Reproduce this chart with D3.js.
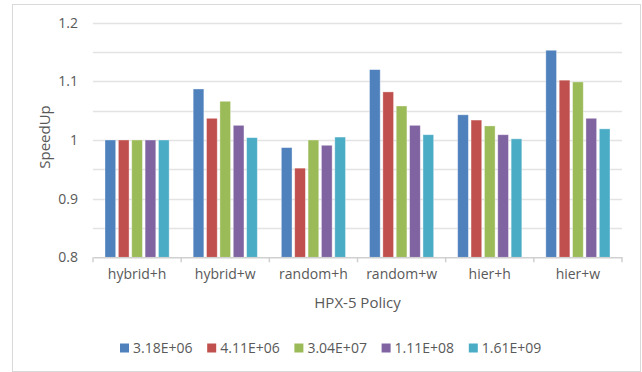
<!DOCTYPE html>
<html>
<head>
<meta charset="utf-8">
<script src="https://cdn.jsdelivr.net/npm/d3@7"></script>
<style>
  html, body { margin: 0; padding: 0; background: #fff; }
  svg text { font-family: "Open Sans", "Noto Sans", sans-serif; fill: #595959; }
</style>
</head>
<body>
<svg id="chart" width="642" height="372"></svg>
<script>
// Policies on the x axis
const categories = ["hybrid+h", "hybrid+w", "random+h", "random+w", "hier+h", "hier+w"];
// Problem sizes (one series each)
const seriesNames = ["3.18E+06", "4.11E+06", "3.04E+07", "1.11E+08", "1.61E+09"];
const seriesColors = ["#4F81BD", "#C0504D", "#9BBB59", "#8064A2", "#4BACC6"];
// Speedup per series, in category order
const s318e06 = [1.000, 1.087, 0.987, 1.120, 1.043, 1.153];
const s411e06 = [1.000, 1.037, 0.952, 1.082, 1.034, 1.102];
const s304e07 = [1.000, 1.066, 1.000, 1.058, 1.024, 1.099];
const s111e08 = [1.000, 1.025, 0.991, 1.025, 1.009, 1.037];
const s161e09 = [1.000, 1.004, 1.005, 1.009, 1.002, 1.019];
const seriesValues = [s318e06, s411e06, s304e07, s111e08, s161e09];
// Axis ticks
const yTicks = [0.8, 0.9, 1.0, 1.1, 1.2];
const yGrid = [0.8, 0.85, 0.9, 0.95, 1.0, 1.05, 1.1, 1.15, 1.2];

const svg = d3.select("#chart");

// outer frame
svg.append("rect")
  .attr("x", 12.5).attr("y", 4.5).attr("width", 628).attr("height", 367)
  .attr("fill", "#fff").attr("stroke", "#d9d9d9").attr("stroke-width", 1);

const plot = { left: 93, right: 622, top: 22.7, bottom: 257.3 };

const y = d3.scaleLinear().domain([0.8, 1.2]).range([plot.bottom, plot.top]);
const x0 = d3.scaleBand().domain(categories).range([plot.left, plot.right]).paddingInner(0).paddingOuter(0);
const x1 = d3.scaleBand().domain(d3.range(seriesNames.length))
  .range([12, x0.bandwidth() - 12]).paddingInner(0.2).paddingOuter(0);

// gridlines
svg.append("g").selectAll("line").data(yGrid.filter(v => v > 0.8)).join("line")
  .attr("x1", plot.left).attr("x2", plot.right)
  .attr("y1", d => Math.round(y(d)) + 0.5).attr("y2", d => Math.round(y(d)) + 0.5)
  .attr("stroke", "#e3e3e3").attr("stroke-width", 1.5);

// y tick labels
svg.append("g").selectAll("text").data(yTicks).join("text")
  .attr("x", 78).attr("y", d => y(d)).attr("dy", "0.35em")
  .attr("text-anchor", "end").attr("font-size", 14)
  .text(d => d3.format("")(d));

// bars
const groups = svg.append("g").selectAll("g").data(categories).join("g")
  .attr("transform", c => `translate(${x0(c)},0)`);
groups.selectAll("rect")
  .data((c, ci) => seriesValues.map((vals, si) => ({ si, v: vals[ci] })))
  .join("rect")
  .attr("x", d => x1(d.si))
  .attr("width", x1.bandwidth())
  .attr("y", d => y(d.v))
  .attr("height", d => y(0.8) - y(d.v))
  .attr("fill", d => seriesColors[d.si])
  .attr("stroke", "rgba(255,255,255,0.45)").attr("stroke-width", 0.8);

// x axis
const xAxis = d3.axisBottom(x0).tickSize(0).tickPadding(12);
const ax = svg.append("g").attr("transform", `translate(0,${plot.bottom})`).call(xAxis);
ax.select(".domain").attr("stroke", "#d0d0d0").attr("stroke-width", 1.5);
ax.selectAll("text").attr("font-size", 14).style("font-family", null).attr("fill", "#595959");
// category boundary ticks
svg.append("g").selectAll("line")
  .data(categories.map(c => x0(c)).concat([plot.right]))
  .join("line")
  .attr("x1", d => d).attr("x2", d => d)
  .attr("y1", plot.bottom).attr("y2", plot.bottom + 5)
  .attr("stroke", "#d0d0d0").attr("stroke-width", 1.5);

// axis titles
svg.append("text")
  .attr("x", (plot.left + plot.right) / 2).attr("y", 303).attr("dy", "0.35em")
  .attr("text-anchor", "middle").attr("font-size", 15)
  .text("HPX-5 Policy");
svg.append("text")
  .attr("transform", "translate(45,137) rotate(-90)")
  .attr("dy", "0.35em")
  .attr("text-anchor", "middle").attr("font-size", 15)
  .text("SpeedUp");

// legend
const legend = svg.append("g").selectAll("g").data(seriesNames).join("g")
  .attr("transform", (d, i) => `translate(${120 + i * 87.2},348)`);
legend.append("rect").attr("x", 0).attr("y", -4.5).attr("width", 9).attr("height", 9)
  .attr("fill", (d, i) => seriesColors[i]);
legend.append("text").attr("x", 13).attr("dy", "0.35em").attr("font-size", 14)
  .text(d => d);
</script>
</body>
</html>
